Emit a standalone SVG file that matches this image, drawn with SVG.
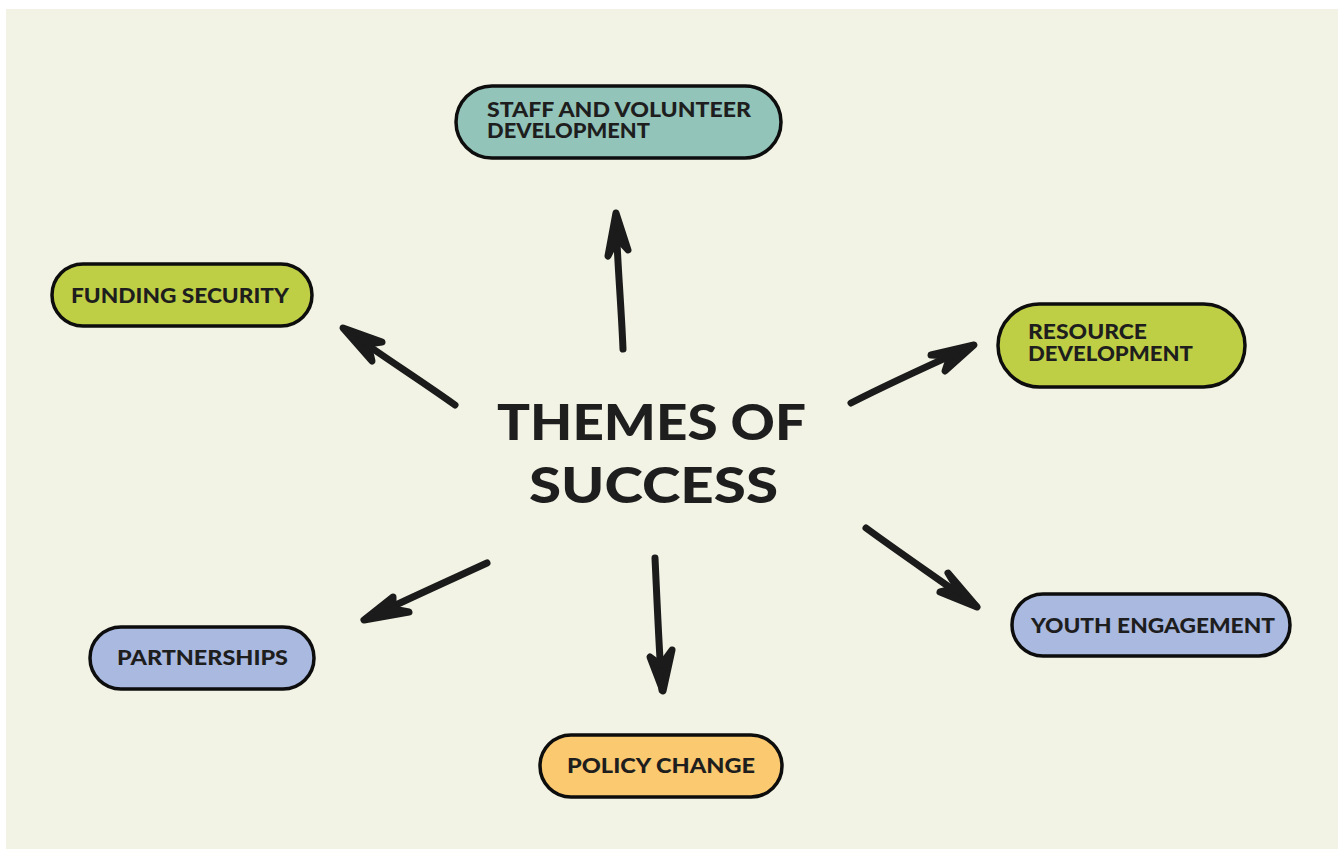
<svg xmlns="http://www.w3.org/2000/svg" width="1338" height="849" viewBox="0 0 1338 849">
  <style>
    .pill { stroke: #0d0d0d; stroke-width: 3.5; }
    .lbl { font-family: Lato, "Open Sans", "DejaVu Sans", sans-serif; font-weight: 900; font-size: 21.5px; fill: #1e1e1e; }
    .title { font-family: Lato, "Open Sans", "DejaVu Sans", sans-serif; font-weight: 900; font-size: 50px; fill: #1e1e1e; }
    .shaft { fill: none; stroke: #1b1b1b; stroke-width: 7; stroke-linecap: round; stroke-linejoin: round; }
    .head { fill: #1b1b1b; stroke: #1b1b1b; stroke-width: 7; stroke-linecap: round; stroke-linejoin: round; }
  </style>

  <rect x="0" y="0" width="1338" height="849" fill="#ffffff"/>
  <rect x="6" y="9" width="1332" height="840" fill="#f2f3e4"/>

  <!-- central title -->
  <g id="center">
    <text class="title" x="497" y="440" textLength="309" lengthAdjust="spacingAndGlyphs">THEMES OF</text>
    <text class="title" x="529" y="503" textLength="249" lengthAdjust="spacingAndGlyphs">SUCCESS</text>
  </g>

  <!-- hand-drawn arrows from the title to each theme -->
  <g id="connectors">
    <path class="shaft" d="M623,349 C621,300 617,260 616,216"/>
    <path class="head" d="M608,256 L616,213 L628,250 L617,238 Z"/>

    <path class="shaft" d="M455,405 C420,380 385,358 346,330"/>
    <path class="head" d="M382,342 L343,328 L372,361 L368,344 Z"/>

    <path class="shaft" d="M851,403 C890,383 930,365 972,346"/>
    <path class="head" d="M931,355 L974,345 L945,371 L950,356 Z"/>

    <path class="shaft" d="M866,528 C900,553 940,580 976,606"/>
    <path class="head" d="M948,573 L977,607 L940,592 L957,588 Z"/>

    <path class="shaft" d="M487,563 C450,580 410,598 366,619"/>
    <path class="head" d="M393,597 L364,620 L409,612 L393,609 Z"/>

    <path class="shaft" d="M655,558 C657,600 659,650 662,690"/>
    <path class="head" d="M650,657 L663,691 L672,650 L661,665 Z"/>
  </g>

  <g id="staff-volunteer">
    <rect class="pill" x="456" y="86" width="325" height="72" rx="36" fill="#93c4ba"/>
    <text class="lbl" x="487" y="117" textLength="264" lengthAdjust="spacingAndGlyphs">STAFF AND VOLUNTEER</text>
    <text class="lbl" x="487" y="138" textLength="163" lengthAdjust="spacingAndGlyphs">DEVELOPMENT</text>
  </g>

  <g id="funding-security">
    <rect class="pill" x="52" y="264" width="260" height="62" rx="31" fill="#bfcf45"/>
    <text class="lbl" x="71" y="303" textLength="218" lengthAdjust="spacingAndGlyphs">FUNDING SECURITY</text>
  </g>

  <g id="resource-development">
    <rect class="pill" x="998" y="304" width="247" height="83" rx="41.5" fill="#bfcf45"/>
    <text class="lbl" x="1028" y="339" textLength="119" lengthAdjust="spacingAndGlyphs">RESOURCE</text>
    <text class="lbl" x="1028" y="361" textLength="165" lengthAdjust="spacingAndGlyphs">DEVELOPMENT</text>
  </g>

  <g id="youth-engagement">
    <rect class="pill" x="1012" y="594" width="278" height="62" rx="31" fill="#a9b9e0"/>
    <text class="lbl" x="1031" y="633" textLength="244" lengthAdjust="spacingAndGlyphs">YOUTH ENGAGEMENT</text>
  </g>

  <g id="partnerships">
    <rect class="pill" x="90" y="627" width="224" height="62" rx="31" fill="#a9b9e0"/>
    <text class="lbl" x="117" y="665" textLength="171" lengthAdjust="spacingAndGlyphs">PARTNERSHIPS</text>
  </g>

  <g id="policy-change">
    <rect class="pill" x="540" y="735" width="242" height="62" rx="31" fill="#fbc96f"/>
    <text class="lbl" x="567" y="773" textLength="188" lengthAdjust="spacingAndGlyphs">POLICY CHANGE</text>
  </g>
</svg>
